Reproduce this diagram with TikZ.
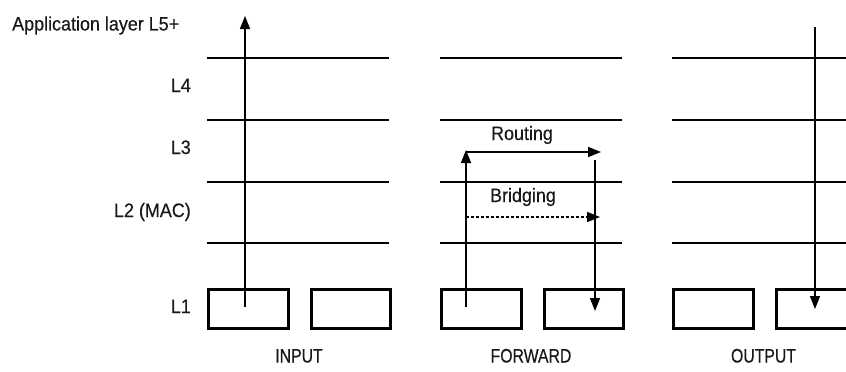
\documentclass[tikz,border=0pt]{standalone}
\usepackage{fontspec}
\setmainfont{Liberation Sans}[FakeStretch=0.92,FakeBold=0.4]
\newfontfamily\capsfont{Liberation Sans}[FakeStretch=0.81,FakeBold=0.4]
\usetikzlibrary{arrows.meta}
\begin{document}
\begin{tikzpicture}[x=1pt,y=-1pt,
  layer/.style={line width=2.6pt},
  pkt/.style={draw,line width=2.6pt,minimum width=80pt,minimum height=39pt,inner sep=0pt,anchor=north west},
  flow/.style={line width=1.6pt,-{Triangle[length=13pt,width=10pt]}},
  lbl/.style={font=\fontsize{19.5}{22}\selectfont,inner sep=0pt,text=black!90},
  caplbl/.style={font=\capsfont\fontsize{19.5}{22}\selectfont,inner sep=0pt,text=black!90},
]
\useasboundingbox (0,0) rectangle (846,372);
\clip (0,0) rectangle (846,372);
% layer lines
\foreach \y in {58,120,182,243}{
  \draw[layer] (207,\y) -- (389,\y);
  \draw[layer] (440,\y) -- (622,\y);
  \draw[layer] (672,\y) -- (850,\y);
}
% boxes
\node[pkt] (b1) at (207,288) {};
\node[pkt,minimum width=79pt] (b2) at (310,288) {};
\node[pkt] (b3) at (440,288) {};
\node[pkt,minimum width=79pt] (b4) at (543,288) {};
\node[pkt] (b5) at (672,288) {};
\node[pkt,minimum width=90pt] (b6) at (775,288) {};
% labels
\node[lbl,anchor=base west] (app) at (12,30.5) {Application layer L5+};
\node[lbl,anchor=base east] (l4) at (191,92) {L4};
\node[lbl,anchor=base east] (l3) at (191,154) {L3};
\node[lbl,anchor=base east] (l2) at (191,217) {L2 (MAC)};
\node[lbl,anchor=base east] (l1) at (191,313) {L1};
\node[caplbl,anchor=base] (in) at (299,362.5) {INPUT};
\node[caplbl,anchor=base] (fw) at (531,362.5) {FORWARD};
\node[caplbl,anchor=base] (out) at (763.5,362.5) {OUTPUT};
\node[lbl,anchor=base] (rt) at (522,140) {Routing};
\node[lbl,anchor=base] (br) at (523,202) {Bridging};
% coordinates
\coordinate (i0) at (245,307);
\coordinate (i1) at (245,16);
\coordinate (f0) at (466,307);
\coordinate (f1) at (466,150);
\coordinate (r0) at (466,152);
\coordinate (r1) at (601,152);
\coordinate (d0) at (595,160);
\coordinate (d1) at (595,311);
\coordinate (g0) at (466,217);
\coordinate (g1) at (600,217);
\coordinate (o0) at (815,27);
\coordinate (o1) at (815,309);
% arrows
\draw[flow] (i0) -- (i1);
\draw[flow] (f0) -- (f1);
\draw[flow] (r0) -- (r1);
\draw[flow] (d0) -- (d1);
\draw[flow,dash pattern=on 3pt off 2pt] (g0) -- (g1);
\draw[flow] (o0) -- (o1);
\end{tikzpicture}
\end{document}
